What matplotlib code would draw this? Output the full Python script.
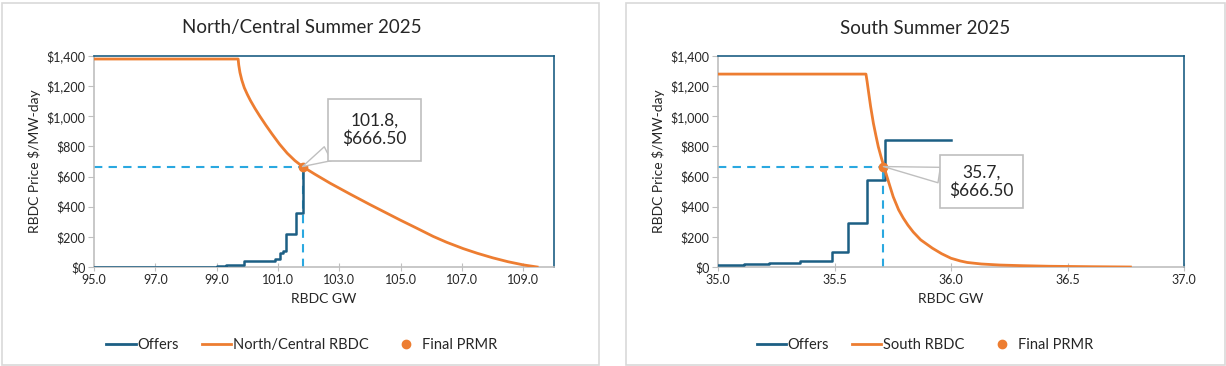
import matplotlib
matplotlib.use("Agg")
import matplotlib.pyplot as plt
from matplotlib.lines import Line2D
from matplotlib.patches import Rectangle
from matplotlib.ticker import FuncFormatter, MultipleLocator

plt.rcParams['font.family'] = ['Lato', 'DejaVu Sans']

# --- North/Central ---
nc_offer_gw = [95.0, 99.0, 99.3, 99.9, 100.9, 101.05, 101.15, 101.25, 101.6, 101.8]
nc_offer_price = [0, 5, 12, 38, 55, 90, 108, 222, 355, 666.5]
nc_rbdc_gw = [95.0, 99.7, 99.72, 99.76, 99.82, 99.9, 100.0, 100.1, 100.25, 100.41,
              100.6, 100.8, 101.05, 101.3, 101.55, 101.8, 102.2, 102.7, 103.35,
              104.0, 104.5, 104.98, 105.5, 106.06, 106.5, 107.04, 107.5, 108.0,
              108.5, 109.0, 109.45]
nc_rbdc_price = [1380, 1380, 1340, 1290, 1240, 1190, 1145, 1105, 1052, 1000,
                 942, 884, 815, 755, 706, 666.5, 616, 556, 484,
                 414, 362, 312, 260, 203, 164, 122, 91, 61,
                 35, 14, 0]
nc_prmr = (101.8, 666.5)

# --- South ---
s_offer_gw = [35.0, 35.11, 35.22, 35.35, 35.49, 35.56, 35.64, 35.715, 36.0]
s_offer_price = [11, 18, 27, 38, 100, 292, 579, 840, 840]
s_rbdc_gw = [35.0, 35.635, 35.64, 35.645, 35.655, 35.667, 35.678, 35.688, 35.70,
             35.712, 35.73, 35.752, 35.775, 35.795, 35.815, 35.838, 35.87, 35.92,
             35.96, 36.0, 36.04, 36.07, 36.13, 36.21, 36.3, 36.42, 36.6, 36.77]
s_rbdc_price = [1280, 1280, 1230, 1174, 1065, 953, 870, 798, 730,
                666.5, 575, 466, 380, 325, 278, 232, 180, 125,
                88, 58, 40, 30, 20, 13, 9, 5, 2, 0]
s_prmr = (35.71, 666.5)

OFFER_C = '#1C5F84'
RBDC_C = '#ED7D31'
DASH_C = '#2AA8E0'
GRID_C = '#BFBFBF'
TXT_C = '#262626'

fig = plt.figure(figsize=(12.26, 3.66), dpi=100)
W, H = 1226, 366

# panel frames
for x0, x1 in [(2, 599), (626, 1225)]:
    fig.patches.append(Rectangle((x0 / W, 1 - 365 / H), (x1 - x0) / W, 362 / H,
                                 transform=fig.transFigure, fill=False,
                                 ec='#D9D9D9', lw=1.2))


def panel(left_px, right_px, title, ogw, opr, rgw, rpr, prmr, xlim, xticks,
          rbdc_name, box_px, box_pad, legend_cx):
    ax = fig.add_axes([left_px / W, 1 - 267 / H, (right_px - left_px) / W, 211 / H])
    ax.step(ogw, opr, where='post', color=OFFER_C, lw=1.8, zorder=3)
    ax.plot(rgw, rpr, color=RBDC_C, lw=2, zorder=4)
    px, py = prmr
    ax.plot([xlim[0], px], [py, py], color=DASH_C, lw=1.5, ls=(0, (4, 3)), zorder=2)
    ax.plot([px, px], [0, py], color=DASH_C, lw=1.5, ls=(0, (4, 3)), zorder=2)
    ax.plot([px], [py], 'o', color=RBDC_C, ms=6, zorder=5)

    ax.set_xlim(*xlim)
    ax.set_ylim(0, 1400)
    ax.set_xticks(xticks)
    ax.yaxis.set_major_locator(MultipleLocator(200))
    ax.yaxis.set_major_formatter(FuncFormatter(lambda v, p: f"${v:,.0f}"))
    ax.xaxis.set_major_formatter(FuncFormatter(lambda v, p: f"{v:.1f}"))
    ax.tick_params(axis='x', direction='inout', length=6, color=GRID_C,
                   labelsize=9, labelcolor=TXT_C, pad=2)
    ax.tick_params(axis='y', direction='out', length=4, color=GRID_C,
                   labelsize=9, labelcolor=TXT_C, pad=2)
    for s in ('left', 'bottom'):
        ax.spines[s].set_color(GRID_C)
        ax.spines[s].set_linewidth(1.2)
    for s in ('top', 'right'):
        ax.spines[s].set_color(OFFER_C)
        ax.spines[s].set_linewidth(1.2)
    ax.set_xlabel('RBDC GW', fontsize=10, color=TXT_C, labelpad=5)
    ax.set_ylabel('RBDC Price $/MW-day', fontsize=10, color=TXT_C, labelpad=4)

    fig.text(legend_cx / W, 1 - 28 / H, title, ha='center', va='center',
             fontsize=13.5, color=TXT_C)

    label = f"{px:.1f},\n${py:,.2f}"
    ax.annotate(label, xy=(px, py), xytext=(box_px[0], H - box_px[1]),
                textcoords='figure pixels', ha='center', va='center',
                fontsize=12.5, color=TXT_C, linespacing=1.15,
                bbox=dict(boxstyle=f'square,pad={box_pad}', fc='white', ec=GRID_C, lw=1.2),
                arrowprops=dict(arrowstyle='wedge,tail_width=0.9,shrink_factor=0.5',
                                fc='white', ec=GRID_C, lw=1.0, shrinkA=0, shrinkB=0),
                zorder=6)

    handles = [Line2D([], [], color=OFFER_C, lw=2),
               Line2D([], [], color=RBDC_C, lw=2),
               Line2D([], [], color=RBDC_C, marker='o', ls='none', ms=6)]
    fig.legend(handles, ['Offers', rbdc_name, 'Final PRMR'], loc='center',
               bbox_to_anchor=(legend_cx / W, 1 - 345 / H), ncol=3, frameon=False,
               fontsize=10.5, handlelength=2.0, handletextpad=0.1,
               columnspacing=1.6, labelcolor=TXT_C)
    return ax


panel(94, 554, 'North/Central Summer 2025', nc_offer_gw, nc_offer_price,
      nc_rbdc_gw, nc_rbdc_price, nc_prmr, (95, 110),
      [95, 97, 99, 101, 103, 105, 107, 109], 'North/Central RBDC',
      (374.5, 130), 0.8, 302)
panel(718, 1184, 'South Summer 2025', s_offer_gw, s_offer_price,
      s_rbdc_gw, s_rbdc_price, s_prmr, (35, 37),
      [35.0, 35.5, 36.0, 36.5, 37.0], 'South RBDC',
      (981.5, 181.5), 0.55, 925)

fig.savefig('out.png', dpi=100)
